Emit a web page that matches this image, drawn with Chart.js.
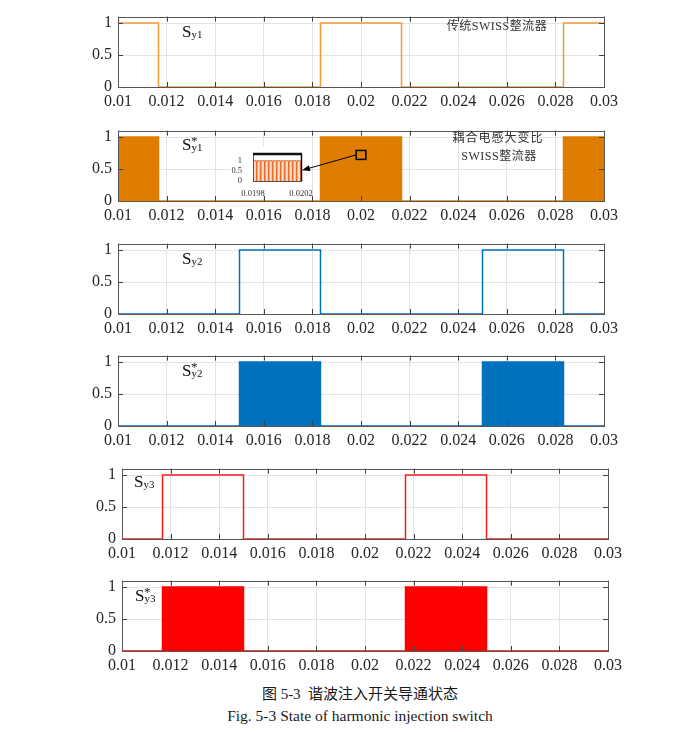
<!DOCTYPE html>
<html>
<head>
<meta charset="utf-8">
<script src="https://cdn.jsdelivr.net/npm/chart.js@4.4.1/dist/chart.umd.min.js"></script>
<style>
body{margin:0;background:#fff;width:697px;height:732px;position:relative;overflow:hidden;font-family:'Liberation Serif','Times New Roman',Times,serif;}
canvas{position:absolute;left:0;}
.lbl{position:absolute;white-space:nowrap;color:#111;line-height:17px;font-size:17px;font-family:'Liberation Serif','Times New Roman',Times,serif;}
.lbl .sb{font-size:11px;position:relative;top:1px;}
.lbl .st{position:absolute;font-size:13px;left:9px;top:-4px;}
.note{position:absolute;white-space:nowrap;color:#333;font-size:12px;font-family:'Liberation Serif','Times New Roman','Noto Sans CJK SC',serif;transform:translate(-50%,-50%);line-height:14px;}
.cap{position:absolute;white-space:nowrap;color:#1a1a1a;transform:translate(-50%,-50%);}
</style>
</head>
<body>
<canvas id="p1" width="697" height="110"></canvas>
<canvas id="p2" width="697" height="110"></canvas>
<canvas id="inset" width="90" height="58"></canvas>
<canvas id="p3" width="697" height="110"></canvas>
<canvas id="p4" width="697" height="110"></canvas>
<canvas id="p5" width="697" height="110"></canvas>
<canvas id="p6" width="697" height="110"></canvas>

<div class="lbl" style="left:182px;top:23px">S<span class="sb">y1</span></div>
<div class="lbl" style="left:182px;top:136px">S<span class="sb">y1</span><span class="st">*</span></div>
<div class="lbl" style="left:182px;top:250px">S<span class="sb">y2</span></div>
<div class="lbl" style="left:182px;top:362px">S<span class="sb">y2</span><span class="st">*</span></div>
<div class="lbl" style="left:134px;top:473px">S<span class="sb">y3</span></div>
<div class="lbl" style="left:135px;top:587px">S<span class="sb">y3</span><span class="st">*</span></div>

<div class="note" style="left:497px;top:26px;letter-spacing:0.5px">传统SWISS整流器</div>
<div class="note" style="left:498px;top:138px;letter-spacing:1px">耦合电感大变比</div>
<div class="note" style="left:499px;top:156px;letter-spacing:0.5px">SWISS整流器</div>

<div class="cap" style="left:360px;top:692px;font-size:15px;font-family:'Liberation Serif','Times New Roman','Noto Sans CJK SC',serif">图 5-3&nbsp; 谐波注入开关导通状态</div>
<div class="cap" style="left:360px;top:716px;font-size:15.5px;font-family:'Liberation Serif','Times New Roman',Times,serif">Fig. 5-3 State of harmonic injection switch</div>

<script>
// ---- data ----
const xTicks = [0.01,0.012,0.014,0.016,0.018,0.02,0.022,0.024,0.026,0.028,0.03];
const xTickLabels = ["0.01","0.012","0.014","0.016","0.018","0.02","0.022","0.024","0.026","0.028","0.03"];
const yTicks = [0,0.5,1];
const yTickLabels = ["0","0.5","1"];

// switching instants and level held from each instant
const sy1Times  = [0.01,0.011667,0.018333,0.021667,0.028333,0.03];
const sy1Levels = [1,0,1,0,1,1];
const sy2Times  = [0.01,0.015,0.018333,0.025,0.028333,0.03];
const sy2Levels = [0,1,0,1,0,0];
const sy3Times  = [0.01,0.011667,0.015,0.021667,0.025,0.03];
const sy3Levels = [0,1,0,1,0,0];

// zoomed detail 0.0198 ~ 0.0202
const zoomTicks = [0.0198,0.0202];
const zoomTickLabels = ["0.0198","0.0202"];
const zoomYTicks = [0,0.5,1];
const zoomYTickLabels = ["0","0.5","1"];
const zoomTimes  = [0.0198,0.019828,0.019833,0.019861,0.019867,0.019895,0.0199,0.019928,0.019933,0.019961,0.019967,0.019995,
                    0.02,0.020028,0.020033,0.020061,0.020067,0.020095,0.0201,0.020128,0.020133,0.020161,0.020167,0.020195,0.0202];
const zoomLevels = [1,0,1,0,1,0,1,0,1,0,1,0,1,0,1,0,1,0,1,0,1,0,1,0,0];
const zoomBoxX = [0.0198,0.0202];
const zoomBoxY = [0.65,0.79];

// ---- layout ----
const panels = [
{id:"p1",top:7,left:118,right:604},
{id:"p2",top:121,left:118,right:604},
{id:"p3",top:234,left:118,right:604},
{id:"p4",top:346,left:118,right:604},
{id:"p5",top:459,left:122,right:608},
{id:"p6",top:571,left:122,right:608}
];
const SERIF = "'Liberation Serif', 'Times New Roman', Times, serif";

function pts(times,levels){
return times.map((t,i)=>({x:t,y:levels[i]}));
}

/* -----------------------------
   BOX + INWARD TICKS
------------------------------ */
const boxPlugin = {
id:"box",
afterDraw(chart){
const {ctx,chartArea:a,scales:{x,y}} = chart;
ctx.save();
ctx.strokeStyle="#404040";
ctx.lineWidth=1;
ctx.beginPath();
xTicks.forEach(v=>{
let px=Math.round(x.getPixelForValue(v))+0.5;
ctx.moveTo(px,a.bottom);ctx.lineTo(px,a.bottom-5);
ctx.moveTo(px,a.top);ctx.lineTo(px,a.top+5);
});
yTicks.forEach(v=>{
let py=Math.round(y.getPixelForValue(v))+0.5;
ctx.moveTo(a.left,py);ctx.lineTo(a.left+5,py);
ctx.moveTo(a.right,py);ctx.lineTo(a.right-5,py);
});
ctx.stroke();
ctx.strokeStyle="#555";
ctx.strokeRect(Math.round(a.left)+0.5,Math.round(a.top)+0.5,Math.round(a.width),Math.round(a.height));
ctx.restore();
}
};

/* -----------------------------
   ZOOM BOX + ARROW (panel 2)
------------------------------ */
const calloutPlugin = {
id:"callout",
afterDraw(chart){
const {ctx,scales:{x,y}} = chart;
let l=x.getPixelForValue(zoomBoxX[0]), r=x.getPixelForValue(zoomBoxX[1]);
let t=y.getPixelForValue(zoomBoxY[1]), b=y.getPixelForValue(zoomBoxY[0]);
ctx.save();
ctx.strokeStyle="#000";
ctx.lineWidth=1.5;
ctx.strokeRect(l,t,r-l,b-t);
// arrow towards the inset
let sx=l, sy=(t+b)/2;
let ex=x.getPixelForValue(0.01757), ey=y.getPixelForValue(0.48);
let ang=Math.atan2(ey-sy,ex-sx);
ctx.lineWidth=1;
ctx.beginPath();
ctx.moveTo(sx,sy);
ctx.lineTo(ex-6*Math.cos(ang),ey-6*Math.sin(ang));
ctx.stroke();
ctx.fillStyle="#000";
ctx.beginPath();
ctx.moveTo(ex,ey);
ctx.lineTo(ex-8*Math.cos(ang)+3*Math.sin(ang),ey-8*Math.sin(ang)-3*Math.cos(ang));
ctx.lineTo(ex-8*Math.cos(ang)-3*Math.sin(ang),ey-8*Math.sin(ang)+3*Math.cos(ang));
ctx.closePath();
ctx.fill();
ctx.restore();
}
};

/* -----------------------------
   MAKE PANEL
------------------------------ */
function makePanel(p,dataset,extra){
let cv=document.getElementById(p.id);
cv.style.top=(p.top-6)+"px";
new Chart(cv,{
type:"line",
data:{datasets:[dataset]},
options:{
responsive:false,
animation:false,
devicePixelRatio:1,
layout:{padding:{top:6,right:697-p.right,left:0,bottom:0}},
plugins:{legend:{display:false},tooltip:{enabled:false}},
elements:{point:{radius:0}},
scales:{
x:{
type:"linear",min:0.01,max:0.03,
afterBuildTicks:s=>{s.ticks=xTicks.map(v=>({value:v}));},
afterFit:s=>{s.height=24;},
grid:{color:"#e4e4e4",drawTicks:false},
border:{display:false},
ticks:{padding:5,color:"#262626",font:{family:SERIF,size:16},maxRotation:0,autoSkip:false,
callback:(v,i)=>xTickLabels[i]}
},
y:{
type:"linear",min:0,max:1.1,
afterBuildTicks:s=>{s.ticks=yTicks.map(v=>({value:v}));},
afterFit:s=>{s.width=p.left;},
grid:{color:"#e4e4e4",drawTicks:false},
border:{display:false},
ticks:{padding:6,color:"#262626",font:{family:SERIF,size:16},
callback:(v,i)=>yTickLabels[i]}
}
}
},
plugins:[boxPlugin].concat(extra||[])
});
}

function lineSet(times,levels,color){
return {data:pts(times,levels),stepped:true,borderColor:color,borderWidth:1.5,fill:false};
}
function fillSet(times,levels,color){
return {data:pts(times,levels),stepped:true,borderColor:color,borderWidth:1.5,fill:"origin",backgroundColor:color};
}

/* -----------------------------
   INSET
------------------------------ */
function makeInset(){
let cv=document.getElementById("inset");
cv.style.left="230px";
cv.style.top="146px";
new Chart(cv,{
type:"line",
data:{datasets:[{data:pts(zoomTimes,zoomLevels),stepped:true,borderColor:"#e2661f",borderWidth:1,
fill:"origin",backgroundColor:"rgba(246,178,140,0.45)"}]},
options:{
responsive:false,animation:false,devicePixelRatio:1,
layout:{padding:{top:3,right:19,left:0,bottom:0}},
plugins:{legend:{display:false},tooltip:{enabled:false}},
elements:{point:{radius:0}},
scales:{
x:{type:"linear",min:0.0198,max:0.0202,
afterBuildTicks:s=>{s.ticks=zoomTicks.map(v=>({value:v}));},
afterFit:s=>{s.height=23;},
grid:{display:false},border:{display:false},
ticks:{padding:0,color:"#333",font:{family:SERIF,size:8.5},maxRotation:0,autoSkip:false,
callback:(v,i)=>zoomTickLabels[i]}
},
y:{type:"linear",min:0,max:1.33,
afterBuildTicks:s=>{s.ticks=zoomYTicks.map(v=>({value:v}));},
afterFit:s=>{s.width=23;},
grid:{display:false},border:{display:false},
ticks:{padding:3,color:"#333",font:{family:SERIF,size:8.5},
callback:(v,i)=>zoomYTickLabels[i]}
}
}
},
plugins:[{
id:"insetBg",
beforeDraw(chart){
const {ctx,chartArea:a}=chart;
ctx.save();ctx.fillStyle="#fff";ctx.fillRect(0,0,a.right,a.bottom+12);ctx.restore();
},
afterDraw(chart){
const {ctx,chartArea:a}=chart;
ctx.save();
ctx.strokeStyle="#555";ctx.lineWidth=1;
ctx.strokeRect(Math.round(a.left)+0.5,Math.round(a.top)+0.5,Math.round(a.width),Math.round(a.height));
ctx.strokeStyle="#111";ctx.lineWidth=2.5;
ctx.beginPath();ctx.moveTo(a.left,a.top);ctx.lineTo(a.right+1,a.top);ctx.stroke();
ctx.lineWidth=1.5;
ctx.beginPath();ctx.moveTo(a.right+0.5,a.top);ctx.lineTo(a.right+0.5,a.bottom);ctx.stroke();
ctx.restore();
}
}]
});
}

window.onload=function(){
makePanel(panels[0],lineSet(sy1Times,sy1Levels,"#ef9b3a"));
makePanel(panels[1],fillSet(sy1Times,sy1Levels,"#df7d00"),[calloutPlugin]);
makePanel(panels[2],lineSet(sy2Times,sy2Levels,"#0072bd"));
makePanel(panels[3],fillSet(sy2Times,sy2Levels,"#0072bd"));
makePanel(panels[4],lineSet(sy3Times,sy3Levels,"#ff1a1a"));
makePanel(panels[5],fillSet(sy3Times,sy3Levels,"#ff0000"));
makeInset();
};
</script>
</body>
</html>
